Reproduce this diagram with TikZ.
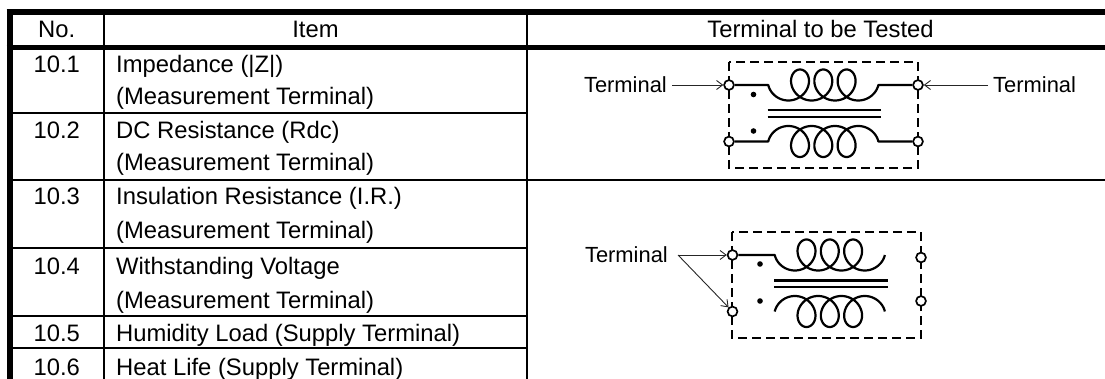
\documentclass[tikz,border=0pt]{standalone}
\usepackage{fontspec}
\setmainfont{Liberation Sans}
\usetikzlibrary{arrows.meta}
\begin{document}
\begin{tikzpicture}[x=1pt,y=-1pt,
  thickrule/.style={line width=5.5pt},
  thinrule/.style={line width=1.9pt},
  cell/.style={inner sep=0pt, anchor=base, font=\fontsize{23.8}{28}\selectfont},
  celltxt/.style={cell, anchor=base west},
  lbl/.style={inner sep=0pt, font=\fontsize{21.9}{26}\selectfont},
  term/.style={circle, draw, line width=1.7pt, fill=white, minimum size=9.8pt, inner sep=0pt},
  wire/.style={line width=2.2pt, line join=round},
  dashbox/.style={line width=2.1pt, dash pattern=on 9pt off 5pt},
  arr/.style={line width=0.9pt, -{Straight Barb[length=6pt,width=9pt]}, black!85},
  dotmark/.style={circle, fill, inner sep=0pt, minimum size=5.6pt},
]
\useasboundingbox (0,0) rectangle (1105,379);
% ---------- table rules ----------
\draw[thickrule] (6.5,12) -- (1110,12);
\draw[thickrule] (6.5,47.5) -- (1110,47.5);
\draw[line width=6pt] (9.5,9.25) -- (9.5,385);
\draw[thinrule] (104,12) -- (104,385);
\draw[thinrule] (527,12) -- (527,385);
\draw[thinrule] (9.5,113) -- (527,113);
\draw[thinrule] (9.5,180) -- (1110,180);
\draw[thinrule] (9.5,248) -- (527,248);
\draw[thinrule] (9.5,316) -- (527,316);
\draw[thinrule] (9.5,348) -- (527,348);
% ---------- header ----------
\node[cell] (hno) at (56.75,38) {No.};
\node[cell] (hit) at (315.5,38) {Item};
\node[cell] (hte) at (820.5,38) {Terminal to be Tested};
% ---------- rows ----------
\node[cell] (n1) at (56.75,72.4) {10.1};
\node[celltxt] (i1a) at (116,72.4) {Impedance (|Z|)};
\node[celltxt] (i1b) at (116,104.4) {(Measurement Terminal)};
\node[cell] (n2) at (56.75,138.4) {10.2};
\node[celltxt] (i2a) at (116,138.4) {DC Resistance (Rdc)};
\node[celltxt] (i2b) at (116,170.4) {(Measurement Terminal)};
\node[cell] (n3) at (56.75,204.4) {10.3};
\node[celltxt] (i3a) at (116,204.4) {Insulation Resistance (I.R.)};
\node[celltxt] (i3b) at (116,238.4) {(Measurement Terminal)};
\node[cell] (n4) at (56.75,274.4) {10.4};
\node[celltxt] (i4a) at (116,274.4) {Withstanding Voltage};
\node[celltxt] (i4b) at (116,308.4) {(Measurement Terminal)};
\node[cell] (n5) at (56.75,341.4) {10.5};
\node[celltxt] (i5a) at (116,341.4) {Humidity Load (Supply Terminal)};
\node[cell] (n6) at (56.75,375.4) {10.6};
\node[celltxt] (i6a) at (116,375.4) {Heat Life (Supply Terminal)};
% ---------- diagram 1 ----------
\draw[dashbox] (729,62) rectangle (918,168);
\node[term] (c1L) at (729,85) {};
\node[term] (c1Lb) at (729,141.5) {};
\node[term] (c1R) at (918,85) {};
\node[term] (c1Rb) at (918,141.5) {};
\draw[wire] (c1L.east) -- plot[variable=\t,domain=0.5*pi:7.5*pi,samples=281]
  ({776.7+3.708*\t-14.3*sin(\t r)},{85-15.5*cos(\t r)}) -- (c1R.west);
\draw[wire] (c1Lb.east) -- plot[variable=\t,domain=0.5*pi:7.5*pi,samples=281]
  ({776.7+3.708*\t-14.3*sin(\t r)},{141.5+15.5*cos(\t r)}) -- (c1Rb.west);
\draw[wire] (767.7,110.3) -- (881,110.3);
\draw[wire] (767.7,117) -- (881,117);
\node[dotmark] (d1a) at (753.5,94.5) {};
\node[dotmark] (d1b) at (753.5,131) {};
\node[lbl, anchor=east] (tl1) at (667,85) {Terminal};
\node[lbl, anchor=west] (tr1) at (993,85) {Terminal};
\draw[arr] ([xshift=5pt]tl1.east) -- (c1L);
\draw[arr] ([xshift=-5pt]tr1.west) -- (c1R);
% ---------- diagram 2 ----------
\draw[dashbox] (732,232) rectangle (921,338);
\node[term] (c2L) at (732.5,255) {};
\node[term] (c2Lb) at (732.5,311.5) {};
\node[term] (c2R) at (921,257.5) {};
\node[term] (c2Rb) at (921,301) {};
\draw[wire] (c2L.east) -- plot[variable=\t,domain=0.5*pi:7.5*pi,samples=281]
  ({783.2+3.708*\t-14.3*sin(\t r)},{255-15.5*cos(\t r)});
\draw[wire] plot[variable=\t,domain=0.5*pi:7.5*pi,samples=281]
  ({783.2+3.708*\t-14.3*sin(\t r)},{311.5+15.5*cos(\t r)});
\draw[wire] (774.2,280.5) -- (887.5,280.5);
\draw[wire] (774.2,287.2) -- (887.5,287.2);
\node[dotmark] (d2a) at (760,264) {};
\node[dotmark] (d2b) at (760,301) {};
\node[lbl, anchor=east] (tl2) at (668,255) {Terminal};
\coordinate (a2) at ([xshift=10pt]tl2.east);
\draw[arr] (a2) -- (c2L);
\draw[arr] (a2) -- (c2Lb);
\end{tikzpicture}
\end{document}
